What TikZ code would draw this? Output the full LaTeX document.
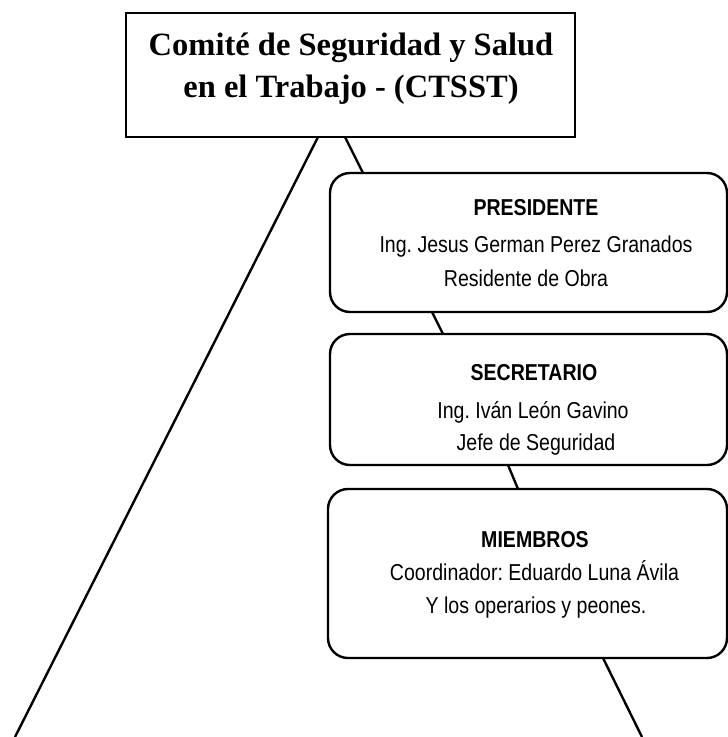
\documentclass[tikz,border=0pt]{standalone}
\usepackage{fontspec}
\setmainfont{Liberation Serif}
\newfontfamily\narrowfont[FakeStretch=0.85]{Liberation Sans}
\usetikzlibrary{calc}
\frenchspacing
\tikzset{
  topbox/.style={draw, line width=2.6pt, inner sep=0pt, outer sep=0pt, minimum width=449pt, minimum height=124pt},
  roundbox/.style={draw, line width=2.4pt, rounded corners=20pt, inner sep=0pt, outer sep=0pt, minimum width=397pt},
  titletext/.style={anchor=base, inner sep=0pt, font=\fontsize{32.5}{42}\selectfont\bfseries},
  headtext/.style={anchor=base, inner sep=0pt, font=\fontsize{23}{33}\selectfont\narrowfont\bfseries},
  bodytext/.style={anchor=base, inner sep=0pt, font=\fontsize{23}{33}\selectfont\narrowfont},
  conn/.style={line width=2.4pt}
}
\begin{document}
\begin{tikzpicture}[x=1pt,y=1pt]
\useasboundingbox (0,0) rectangle (728,-737);
% boxes
\node[topbox] (ctsst) at (350.5,-75) {};
\node[roundbox, minimum height=139pt] (pres) at (528.5,-242.5) {};
\node[roundbox, minimum height=131pt] (sec) at (528.5,-399.5) {};
\node[roundbox, minimum width=399pt, minimum height=169pt] (mem) at (527.5,-573.5) {};
% texts
\node[titletext] (t1) at (351,-55) {\frenchspacing Comité de Seguridad y Salud};
\node[titletext] (t2) at (351,-97) {\frenchspacing en el Trabajo - (CTSST)};
\node[headtext] (p1) at (536,-215) {PRESIDENTE};
\node[bodytext] (p2) at (536,-252) {\frenchspacing Ing. Jesus German Perez Granados};
\node[bodytext] (p3) at (526,-286) {Residente de Obra};
\node[headtext] (s1) at (534,-380) {SECRETARIO};
\node[bodytext] (s2) at (533,-418) {\frenchspacing Ing. Iván León Gavino};
\node[bodytext] (s3) at (536,-450) {Jefe de Seguridad};
\node[headtext] (m1) at (535,-547) {MIEMBROS};
\node[bodytext] (m2) at (534.5,-580) {\frenchspacing Coordinador: Eduardo Luna Ávila};
\node[bodytext] (m3) at (536,-613) {\frenchspacing Y los operarios y peones.};
% free ends
\coordinate (endL) at (15,-737);
\coordinate (endR) at (642,-737);
% connectors
\draw[conn] ($(ctsst.south west)+(192,0)$) -- (endL);
\draw[conn] ($(ctsst.south west)+(219,0)$) -- ($(pres.north west)+(33,0)$);
\draw[conn] ($(pres.south west)+(102,0)$) -- ($(sec.north west)+(113,0)$);
\draw[conn] ($(sec.south west)+(178,0)$) -- ($(mem.north west)+(190,0)$);
\draw[conn] ($(mem.south west)+(275,0)$) -- (endR);
\end{tikzpicture}
\end{document}
